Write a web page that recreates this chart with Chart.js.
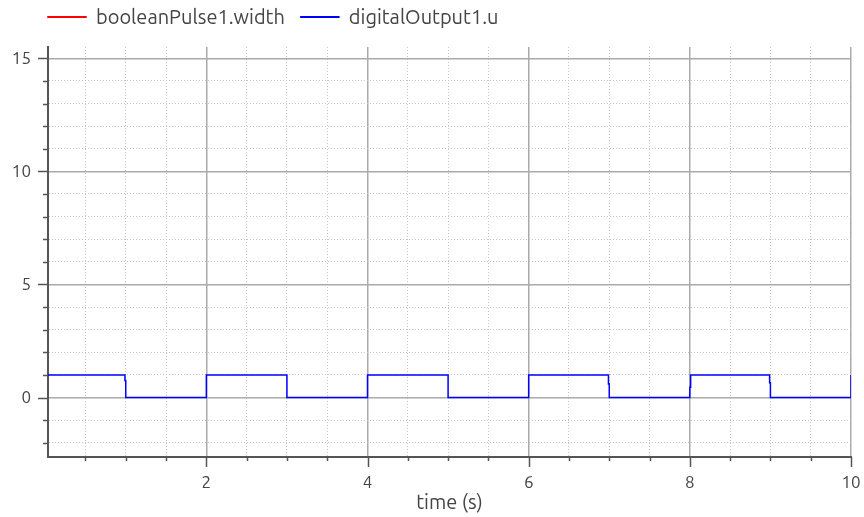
<!DOCTYPE html>
<html>
<head>
<meta charset="utf-8">
<script src="https://cdn.jsdelivr.net/npm/chart.js@4.4.1/dist/chart.umd.min.js"></script>
<style>
html,body{margin:0;padding:0;background:#fff;}
#wrap{width:864px;height:517px;position:relative;overflow:hidden;}
</style>
</head>
<body>
<div id="wrap"><canvas id="c" width="864" height="517"></canvas></div>
<script>
// ---- data ----
const seriesNames = ['booleanPulse1.width', 'digitalOutput1.u'];
const seriesColors = ['#ff0000', '#0000ff'];
const widthTime = [0, 10];
const widthValues = [50, 50];
const outTime = [0, 0.99, 0.99, 1.0, 1.0, 2, 2, 3, 3, 4, 4, 5, 5, 6, 6, 6.99, 6.99, 7.0, 7.0, 8, 8, 8.01, 8.01, 8.99, 8.99, 9.0, 9.0, 10, 10];
const outValues = [1, 1, 0.75, 0.75, 0, 0, 1, 1, 0, 0, 1, 1, 0, 0, 1, 1, 0.6, 0.6, 0, 0, 0.45, 0.45, 1, 1, 0.65, 0.65, 0, 0, 1];
const xTicks = [0.5, 1, 1.5, 2, 2.5, 3, 3.5, 4, 4.5, 5, 5.5, 6, 6.5, 7, 7.5, 8, 8.5, 9, 9.5, 10];
const xLabeled = [2, 4, 6, 8, 10];
const yTicks = [-2, -1, 0, 1, 2, 3, 4, 5, 6, 7, 8, 9, 10, 11, 12, 13, 14, 15];
const yLabeled = [0, 5, 10, 15];
const xRange = [0.035, 10];
const yRange = [-2.63, 15.5];
const xTitle = 'time (s)';

const FONT = 'Ubuntu, "DejaVu Sans", sans-serif';
const AXIS = '#555555';
const LEGEND_H = 47;

function pts(t, v){ return t.map((x,i)=>({x:x, y:v[i]})); }

const tickMarks = {
  id: 'tickMarks',
  afterDraw(chart){
    const c = chart.ctx;
    c.save();
    c.strokeStyle = AXIS;
    c.lineWidth = 1.5;
    const xs = chart.scales.x, ys = chart.scales.y;
    xs.ticks.forEach(t => {
      const px = Math.round(xs.getPixelForValue(t.value)) + 0.5;
      const len = xLabeled.includes(t.value) ? 10 : 4;
      c.beginPath(); c.moveTo(px, xs.top); c.lineTo(px, xs.top + len); c.stroke();
    });
    ys.ticks.forEach(t => {
      const py = Math.round(ys.getPixelForValue(t.value)) + 0.5;
      const len = yLabeled.includes(t.value) ? 10 : 5;
      c.beginPath(); c.moveTo(ys.right, py); c.lineTo(ys.right - len, py); c.stroke();
    });
    c.restore();
  }
};

const legendFix = {
  id: 'legendFix',
  beforeLayout(chart){
    const lg = chart.legend;
    if (lg && !lg._fixed) {
      const f = lg.fit.bind(lg);
      lg.fit = function(){ f(); this.height = LEGEND_H; };
      lg._fixed = true;
    }
  },
  afterLayout(chart){
    chart.legend.left += 32;
    chart.legend.top -= 9;
  }
};

new Chart(document.getElementById('c'), {
  type: 'line',
  data: {
    datasets: [
      { label: seriesNames[0], data: pts(widthTime, widthValues), borderColor: seriesColors[0], backgroundColor: seriesColors[0], borderWidth: 1.5, pointRadius: 0, tension: 0 },
      { label: seriesNames[1], data: pts(outTime, outValues), borderColor: seriesColors[1], backgroundColor: seriesColors[1], borderWidth: 1.5, pointRadius: 0, tension: 0 }
    ]
  },
  options: {
    responsive: false,
    animation: false,
    layout: { padding: { left: 0, right: 13, top: 0, bottom: 4 } },
    plugins: {
      legend: {
        position: 'top',
        align: 'start',
        labels: {
          boxWidth: 38, boxHeight: 0.5, padding: 16,
          color: '#444', font: { family: FONT, size: 20 }
        }
      },
      tooltip: { enabled: false }
    },
    scales: {
      x: {
        type: 'linear',
        min: xRange[0], max: xRange[1],
        afterBuildTicks: s => { s.ticks = xTicks.map(v => ({ value: v, major: xLabeled.includes(v) })); },
        afterFit: s => { s.height = 56; s.paddingLeft = 0; s.paddingRight = 0; },
        ticks: {
          autoSkip: false, maxRotation: 0, padding: 15,
          color: '#444', font: { family: FONT, size: 17 },
          callback: v => xLabeled.includes(v) ? String(v) : ''
        },
        grid: {
          drawTicks: false,
          color: ctx => (ctx.tick && xLabeled.includes(ctx.tick.value)) ? '#aaaaaa' : '#c4c4c4',
          lineWidth: ctx => (ctx.tick && xLabeled.includes(ctx.tick.value)) ? 1.5 : 1
        },
        border: {
          display: true, color: AXIS, width: 2,
          dash: ctx => (ctx.tick && !xLabeled.includes(ctx.tick.value)) ? [1, 2] : []
        },
        title: { display: true, text: xTitle, color: '#444', font: { family: FONT, size: 20 }, padding: { top: 0, bottom: -1 } }
      },
      y: {
        type: 'linear',
        min: yRange[0], max: yRange[1],
        afterBuildTicks: s => { s.ticks = yTicks.map(v => ({ value: v, major: yLabeled.includes(v) })); },
        afterFit: s => { s.width = 48; s.paddingTop = 0; s.paddingBottom = 0; },
        ticks: {
          autoSkip: false, padding: 17,
          color: '#444', font: { family: FONT, size: 17 },
          callback: v => yLabeled.includes(v) ? String(v) : ''
        },
        grid: {
          drawTicks: false,
          color: ctx => (ctx.tick && yLabeled.includes(ctx.tick.value)) ? '#aaaaaa' : '#c4c4c4',
          lineWidth: ctx => (ctx.tick && yLabeled.includes(ctx.tick.value)) ? 1.5 : 1
        },
        border: {
          display: true, color: AXIS, width: 2,
          dash: ctx => (ctx.tick && !yLabeled.includes(ctx.tick.value)) ? [1, 2] : []
        }
      }
    }
  },
  plugins: [tickMarks, legendFix]
});
</script>
</body>
</html>
